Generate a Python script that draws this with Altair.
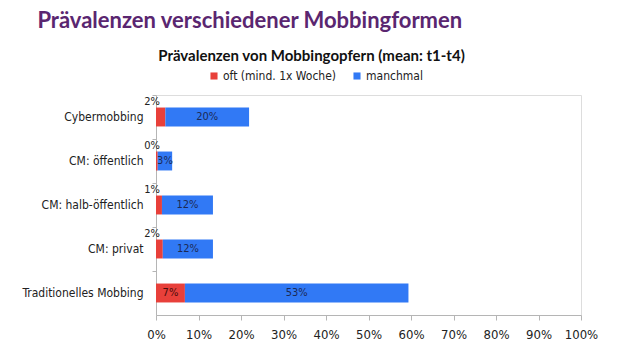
import altair as alt
import pandas as pd

categories = ["Cybermobbing", "CM: öffentlich", "CM: halb-öffentlich", "CM: privat", "Traditionelles Mobbing"]
series_names = ["oft (mind. 1x Woche)", "manchmal"]
oft = [2.2, 0.4, 1.4, 1.6, 6.8]
manchmal = [19.7, 3.4, 12.0, 11.8, 52.6]
x_ticks = [0, 0.1, 0.2, 0.3, 0.4, 0.5, 0.6, 0.7, 0.8, 0.9, 1.0]

rows = []
for c, a, b in zip(categories, oft, manchmal):
    rows.append({"category": c, "series": series_names[0], "value": a / 100, "order": 0})
    rows.append({"category": c, "series": series_names[1], "value": b / 100, "order": 1})
df = pd.DataFrame(rows)

FONT = "DejaVu Sans Condensed"
TFONT = "Lato"
RED = "#e8403a"
BLUE = "#3179f5"

y_enc = alt.Y(
    "category:N",
    sort=categories,
    title=None,
    scale=alt.Scale(paddingInner=0, paddingOuter=0),
    axis=alt.Axis(
        labelFont=FONT, labelFontSize=12, labelColor="#222222", labelPadding=9,
        tickSize=4, tickColor="#b5b5b5", domainColor="#b5b5b5", bandPosition=0,
        labelLimit=200,
    ),
)

base = alt.Chart(df)

bars = base.mark_bar(height=alt.RelativeBandSize(0.43)).encode(
    x=alt.X(
        "value:Q",
        stack="zero",
        title=None,
        scale=alt.Scale(domain=[0, 1], nice=False),
        axis=alt.Axis(
            format=".0%", values=x_ticks, grid=False, labelFont=FONT, labelFontSize=13,
            labelColor="#222222", tickSize=5, tickColor="#b5b5b5", domainColor="#b5b5b5",
            labelPadding=8, labelOverlap=False, labelFlush=False,
        ),
    ),
    y=y_enc,
    color=alt.Color(
        "series:N",
        scale=alt.Scale(domain=series_names, range=[RED, BLUE]),
        legend=alt.Legend(
            title=None, orient="none", direction="horizontal", legendX=52, legendY=-25,
            symbolType="square", symbolSize=50, symbolStrokeWidth=0,
            labelFont=FONT, labelFontSize=12, labelColor="#222222", columnPadding=14,
            labelOffset=3,
        ),
    ),
    order=alt.Order("order:Q"),
)

stacked = base.transform_stack(
    stack="value", groupby=["category"], as_=["v0", "v1"], sort=[alt.SortField("order")]
).transform_calculate(mid="(datum.v0 + datum.v1) / 2")

blue_labels = stacked.transform_filter(alt.datum.order == 1).mark_text(
    font=FONT, fontSize=11, color="#1c2a55"
).encode(
    x="mid:Q",
    y=alt.Y("category:N", sort=categories),
    text=alt.Text("value:Q", format=".0%"),
)

red_in = stacked.transform_filter((alt.datum.order == 0) & (alt.datum.value >= 0.05)).mark_text(
    font=FONT, fontSize=11, color="#4a0c0c"
).encode(
    x="mid:Q",
    y=alt.Y("category:N", sort=categories),
    text=alt.Text("value:Q", format=".0%"),
)

red_out = stacked.transform_filter((alt.datum.order == 0) & (alt.datum.value < 0.05)).mark_text(
    font=FONT, fontSize=11, color="#222222", dy=-15, dx=-4
).encode(
    x="v0:Q",
    y=alt.Y("category:N", sort=categories),
    text=alt.Text("value:Q", format=".0%"),
)

inner = alt.layer(bars, blue_labels, red_in, red_out).properties(
    width=425,
    height=220,
    title=alt.TitleParams(
        "Prävalenzen von Mobbingopfern (mean: t1-t4)",
        anchor="middle", frame="group", dx=-57, font=TFONT, fontSize=15,
        fontWeight="bold", color="#111111", offset=31,
    ),
)

chart = alt.vconcat(inner).properties(
    title=alt.TitleParams(
        "Prävalenzen verschiedener Mobbingformen",
        anchor="start", font=TFONT, fontSize=22, fontWeight="bold",
        color="#5a2670", dx=16, offset=15,
    ),
    padding={"left": 21, "top": 10, "right": 18, "bottom": 5},
).configure_view(stroke=None, fill="#fffdf8").configure(background="white")

chart.save("out.html", embed_options={"renderer": "svg", "actions": False})
